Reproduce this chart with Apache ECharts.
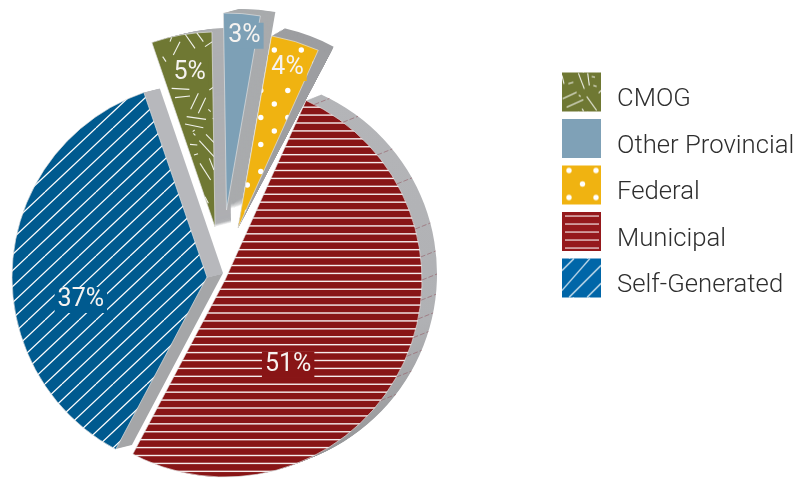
<!DOCTYPE html>
<html>
<head>
<meta charset="utf-8">
<style>html,body{margin:0;padding:0;background:#fff}#c{width:799px;height:478px}</style>
<script src="https://cdn.jsdelivr.net/npm/echarts@6/dist/echarts.min.js"></script>
</head>
<body>
<div id="c"></div>
<script>
// Funding sources, in legend order
const categories = ['CMOG', 'Other Provincial', 'Federal', 'Municipal', 'Self-Generated'];
const shares = [5, 3, 4, 51, 37];
// Clockwise order around the pie, as indexes into the arrays above
const pieOrder = [3, 4, 0, 1, 2];
// Where the pie starts, in degrees clockwise from twelve o'clock
const firstAngle = 24.3;
// Rim seams on the Municipal wedge, in degrees clockwise from twelve o'clock
const seamAngles = [27, 36.8, 50.6, 60.8, 75, 83.3, 90, 95.9, 101.4, 107, 112.8, 119.5, 127.7];

const faceColors = ['#6f7833', '#7da0b6', '#f0b311', '#881516', '#005a8f'];
const legendColors = ['#6f7833', '#7fa1b7', '#f0b311', '#95191c', '#0066a8'];

function verticalWall(stops) {
  return { type: 'linear', x: 0, y: 0, x2: 0, y2: 1,
    colorStops: stops.map(s => ({ offset: s[0], color: s[1] })) };
}

// Exploded position of each wedge, with its extrusion and label nudge
const placement = [
  { center: [215, 227], radius: 195, depth: [16, -4], wall: '#aeafb2', nudge: [-8, -55] },
  { center: [226.5, 210], radius: 197, depth: [15, -4], wall: '#a9abad', nudge: [10, -73] },
  { center: [238, 228], radius: 195, flare: [3.2, 10], wall: '#9d9ea1', nudge: [20, -64] },
  { center: [225, 280], radius: 197, depth: [15, -6], nudge: [-28, 40],
    wall: verticalWall([[0, '#b4b5b8'], [0.6, '#b0b1b4'], [1, '#929395']]) },
  { center: [207, 277], radius: 195, depth: [16, -4], nudge: [-26, 31],
    wall: verticalWall([[0, '#b7b8bc'], [0.52, '#b7b8bc'], [0.52, '#a5a6a8'], [1, '#a5a6a8']]) }
];

function tile(w, h, paint) {
  const cv = document.createElement('canvas');
  cv.width = w; cv.height = h;
  paint(cv.getContext('2d'));
  return { image: cv, repeat: 'repeat' };
}

function strokes(ctx, color, width, segs, ox, oy, k) {
  ctx.strokeStyle = color; ctx.lineWidth = width; ctx.lineCap = 'butt';
  segs.forEach(s => {
    ctx.beginPath();
    ctx.moveTo(ox + s[0] / k, oy + s[1] / k);
    ctx.lineTo(ox + s[2] / k, oy + s[3] / k);
    ctx.stroke();
  });
}

// Scattered straw marks: a large sheet for the wedge, a swatch-sized one for the legend
const strawSegs = [[95,112,90,125],[120,125,100,165],[135,102,165,145],[170,98,190,125],[195,140,222,122],
  [68,170,78,185],[95,265,148,268],[105,293,150,288],[175,280,152,328],[197,293,175,340],[208,270,222,260],
  [140,350,198,358],[135,372,190,383],[205,328,212,335],[160,400,166,406],[198,403,222,428],[178,422,222,470],
  [150,433,172,435],[162,465,174,461],[208,475,222,510],[180,490,212,540],[150,470,153,474],[220,210,224,214],
  [158,395,164,390],[218,355,224,358],[195,590,205,610]];
const strawPie = tile(240, 240, c => {
  c.fillStyle = faceColors[0]; c.fillRect(0, 0, 240, 240);
  strokes(c, 'rgba(255,255,255,0.9)', 1.1, strawSegs, 140, 0, 3);
});
const legendStraw = [[85,38,103,85],[113,38,118,75],[55,70,70,65],[125,48,135,50],[130,75,140,78],[38,115,80,95],
  [50,140,100,118],[110,108,140,150],[36,45,42,70],[86,104,92,108],[96,145,101,152],[146,98,153,90]];
const strawLegend = tile(39, 39, c => {
  c.fillStyle = legendColors[0]; c.fillRect(0, 0, 39, 39);
  strokes(c, 'rgba(255,255,255,0.9)', 1.1, legendStraw, -12, -12, 3);
});

// Staggered dots
function dots(bg, ox, oy) {
  return tile(27, 27, c => {
    c.fillStyle = bg; c.fillRect(0, 0, 27, 27);
    c.fillStyle = '#fff';
    for (let i = -1; i < 2; i++) for (let j = -1; j < 2; j++) {
      [[0, 0], [13.5, 13.5]].forEach(p => {
        c.beginPath();
        c.arc(ox + p[0] + i * 27, oy + p[1] + j * 27, 2.7, 0, Math.PI * 2);
        c.fill();
      });
    }
  });
}

// Horizontal rules, twelve to the sheet so the spacing stays fractional
function rules(bg, phase) {
  return tile(8, 95, c => {
    c.fillStyle = bg; c.fillRect(0, 0, 8, 95);
    c.fillStyle = 'rgba(255,255,255,0.92)';
    for (let i = 0; i < 12; i++) c.fillRect(0, (phase + i * 95 / 12) % 95 - 0.7, 8, 1.4);
  });
}

// Rising diagonals
function hatch(bg, phase) {
  const w = 68, h = 64, step = 17;
  return tile(w, h, c => {
    c.fillStyle = bg; c.fillRect(0, 0, w, h);
    c.strokeStyle = '#fff'; c.lineWidth = 1.2;
    for (let k = -8; k < 16; k++) {
      const x0 = phase + k * step;
      c.beginPath(); c.moveTo(x0, 0); c.lineTo(x0 - w, h); c.stroke();
    }
  });
}

// Legend swatches are filled in their own local coordinates
const swatchRules = tile(39, 39, c => {
  c.fillStyle = legendColors[3]; c.fillRect(0, 0, 39, 39);
  c.fillStyle = 'rgba(255,255,255,0.8)';
  [4, 12, 20, 28, 36].forEach(y => c.fillRect(3, y - 0.6, 34, 1.3));
});
const swatchHatch = tile(39, 39, c => {
  c.fillStyle = legendColors[4]; c.fillRect(0, 0, 39, 39);
  strokes(c, '#fff', 1.1, [[0, 12, 12, 0], [0, 32, 28, 0], [39, 7, 7, 39], [39, 25, 25, 39]], 0, 0, 1);
});

const pieFills = [strawPie, faceColors[1], dots(faceColors[2], 4.3, 23), rules(faceColors[3], 4.25), hatch(faceColors[4], 11)];
const legendFills = [strawLegend, legendColors[1], dots(legendColors[2], 7, 5), swatchRules, swatchHatch];

const total = shares.reduce((a, b) => a + b, 0);
const series = [];

function wedge(value, center, radius, from, sweep, extra) {
  return Object.assign({
    type: 'pie', silent: true, animation: false, legendHoverLink: false,
    center: center, radius: [0, radius],
    startAngle: 90 - from, endAngle: 90 - from - sweep, clockwise: true,
    label: { show: false }, labelLine: { show: false },
    emphasis: { disabled: true },
    data: [{ value: value }]
  }, extra);
}

let angle = firstAngle;
pieOrder.forEach(i => {
  const p = placement[i];
  const sweep = shares[i] / total * 360;
  const wallStyle = { itemStyle: { color: p.wall } };

  if (p.flare) {
    // This wall fans out from the tip instead of sliding sideways
    const steps = 10;
    for (let s = steps; s >= 1; s--) {
      const t = s / steps;
      series.push(wedge(shares[i], p.center, p.radius + p.flare[1] * t,
        angle + p.flare[0] * t, sweep - p.flare[0] * t + 3.5, wallStyle));
    }
  } else {
    const steps = 16;
    for (let s = steps; s >= 1; s--) {
      const t = s / steps;
      series.push(wedge(shares[i], [p.center[0] + p.depth[0] * t, p.center[1] + p.depth[1] * t],
        p.radius, angle, sweep, wallStyle));
    }
  }

  if (categories[i] === 'Municipal') {
    series.push({
      type: 'custom', coordinateSystem: 'none', silent: true, animation: false,
      dimensions: ['angle'],
      encode: { value: 0 },
      data: seamAngles.map(a => [a]),
      renderItem: (params, api) => {
        const a = api.value(0) * Math.PI / 180;
        const x = p.center[0] + p.radius * Math.sin(a);
        const y = p.center[1] - p.radius * Math.cos(a);
        return { type: 'line', z2: 5,
          shape: { x1: x, y1: y, x2: x + p.depth[0], y2: y + p.depth[1] },
          style: { stroke: 'rgba(150,95,105,0.7)', fill: null, lineWidth: 0.9, lineDash: [5, 2] } };
      }
    });
  }

  series.push(wedge(shares[i], p.center, p.radius, angle, sweep, {
    name: categories[i],
    itemStyle: { color: pieFills[i], borderColor: 'rgba(225,225,225,0.85)', borderWidth: 0.8 },
    label: {
      show: true, position: 'inside', formatter: '{c}%',
      fontFamily: 'Roboto', fontWeight: 400, fontSize: 25, color: '#f6f3f0',
      backgroundColor: faceColors[i], padding: [1, 3, 0, 3]
    },
    labelLayout: { dx: p.nudge[0], dy: p.nudge[1] },
    data: [{ name: categories[i], value: shares[i] }]
  }));
  angle += sweep;
});

const chart = echarts.init(document.getElementById('c'), null, { renderer: 'canvas' });
chart.setOption({
  animation: false,
  tooltip: { show: false },
  legend: {
    orient: 'vertical', left: 562, top: 71,
    itemWidth: 39, itemHeight: 39, itemGap: 4.5, icon: 'rect', selectedMode: false,
    padding: 0,
    formatter: name => '{t|' + name + '}',
    textStyle: {
      rich: { t: { fontFamily: 'Roboto', fontWeight: 300, fontSize: 25.7, color: '#2e2e2e',
        lineHeight: 22, padding: [16, 0, 0, 11] } }
    },
    data: categories.map((name, i) => ({
      name: name,
      itemStyle: { color: legendFills[i], borderWidth: 0 }
    }))
  },
  series: series
});
</script>
</body>
</html>
